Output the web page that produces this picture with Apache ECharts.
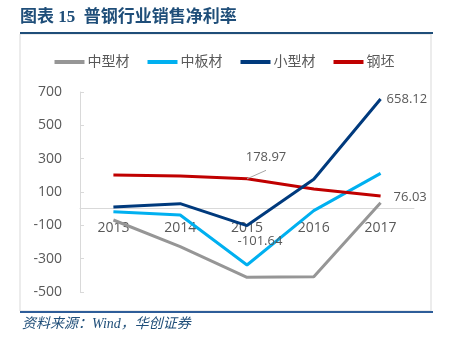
<!DOCTYPE html>
<html><head><meta charset="utf-8">
<script src="https://cdn.jsdelivr.net/npm/echarts@6/dist/echarts.min.js"></script>
<style>html,body{margin:0;padding:0;background:#fff}#c{width:449px;height:346px}</style>
</head><body><div id="c"></div>
<script>
var categories = ['2013', '2014', '2015', '2016', '2017'];
var zhongxingcai = [-68, -228, -412, -408, 36];
var zhongbancai = [-18, -38, -338, -12, 212];
var xiaoxingcai = [10, 30, -101.64, 176, 658.12];
var gangpi = [202, 196, 178.97, 118, 76.03];
var yTicks = { min: -500, max: 700, interval: 200 };

var chart = echarts.init(document.getElementById('c'));
var grey = '#595959';
var font = 'Open Sans, Noto Sans CJK SC, sans-serif';
var gridTop = 92, gridBottom = 54, gridH = 346 - gridTop - gridBottom;
function s(name, data, color, z) {
  return { name: name, type: 'line', data: data, symbol: 'circle', symbolSize: 0, showSymbol: true, z: z,
    lineStyle: { color: color, width: 3 }, itemStyle: { color: color },
    label: { show: false, color: grey, fontSize: 13, fontFamily: font },
    emphasis: { disabled: true } };
}
var sXiao = s('小型材', xiaoxingcai, '#003a7d', 4);
sXiao.data = xiaoxingcai.map(function (v, i) {
  if (i === 2) return { value: v, label: { show: true, position: 'bottom', offset: [13, 4] } };
  if (i === 4) return { value: v, label: { show: true, position: 'right', distance: 6 } };
  return v;
});
var sGang = s('钢坯', gangpi, '#c00000', 3);
sGang.data = gangpi.map(function (v, i) {
  if (i === 2) return { value: v, label: { show: true, position: 'top', offset: [19, -10] },
    labelLine: { show: true, lineStyle: { color: '#a6a6a6', width: 1 } } };
  if (i === 4) return { value: v, label: { show: true, position: 'right', distance: 13, offset: [0, 1] } };
  return v;
});
sGang.labelLine = { show: false, lineStyle: { color: '#a6a6a6', width: 1 } };

chart.setOption({
  animation: false,
  textStyle: { fontFamily: font },
  graphic: [
    { type: 'text', left: 20, top: 9, style: { text: '图表 15  普钢行业销售净利率', font: 'bold 17px "Liberation Serif", "Noto Sans CJK SC"', fill: '#1f4e79' } },
    { type: 'rect', shape: { x: 20, y: 34, width: 411, height: 277 }, style: { fill: 'none', stroke: '#d9d9d9', lineWidth: 1 }, z: -1 },
    { type: 'rect', shape: { x: 20, y: 32, width: 413, height: 2 }, style: { fill: '#1f4e79' } },
    { type: 'rect', shape: { x: 20, y: 311, width: 413, height: 2 }, style: { fill: '#2e5d99' } },
    { type: 'text', left: 22, top: 317, style: { text: '资料来源：Wind，华创证券', font: 'italic 14px "Liberation Serif", "Noto Sans CJK SC"', fill: '#1f4e79' } }
  ],
  legend: {
    top: 50, left: 'center', itemWidth: 30, itemHeight: 4, itemGap: 18, icon: 'rect',
    textStyle: { color: grey, fontSize: 14, fontFamily: font, padding: [0, 0, 0, -2] },
    data: ['中型材', '中板材', '小型材', '钢坯']
  },
  grid: { left: 80, right: 35, top: gridTop, bottom: gridBottom },
  xAxis: {
    type: 'category', data: categories, boundaryGap: true,
    offset: -gridH * (0 - yTicks.min) / (yTicks.max - yTicks.min),
    axisLine: { onZero: false, lineStyle: { color: '#d9d9d9', width: 1 } },
    axisTick: { show: false },
    axisLabel: { color: grey, fontSize: 14, margin: 12, fontFamily: font }
  },
  yAxis: {
    type: 'value', min: yTicks.min, max: yTicks.max, interval: yTicks.interval,
    axisLine: { show: true, lineStyle: { color: '#d9d9d9', width: 1 } },
    axisTick: { show: true, inside: true, length: 4, lineStyle: { color: '#d9d9d9' } },
    splitLine: { show: false },
    axisLabel: { color: grey, fontSize: 14, margin: 18, fontFamily: font }
  },
  series: [
    s('中型材', zhongxingcai, '#969696', 1),
    s('中板材', zhongbancai, '#00b0f0', 2),
    sXiao,
    sGang
  ]
});
</script></body></html>
